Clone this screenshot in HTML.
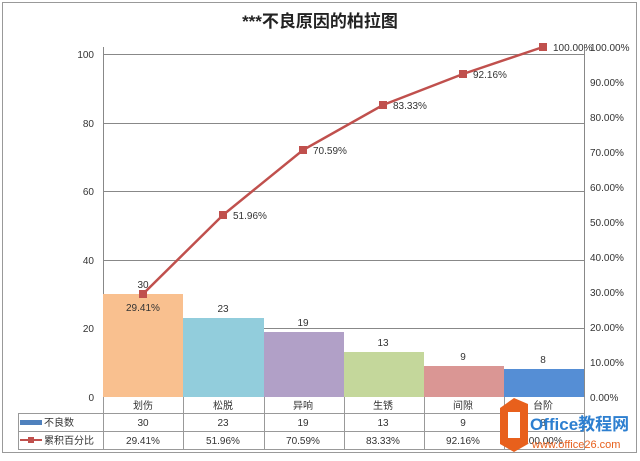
<!DOCTYPE html>
<html><head><meta charset="utf-8"><style>
body{margin:0;background:#fff}
svg text{font-family:"Liberation Sans","Noto Sans CJK SC",sans-serif}
</style></head><body>
<svg width="640" height="456" viewBox="0 0 640 456" xmlns="http://www.w3.org/2000/svg">
<rect x="2.5" y="2.5" width="634" height="450" fill="#fff" stroke="#999"/>
<text x="320" y="27" font-size="17" font-weight="bold" text-anchor="middle" fill="#222">***不良原因的柏拉图</text>
<g stroke="#888" stroke-width="1">
<line x1="103" y1="54.5" x2="584" y2="54.5"/>
<line x1="103" y1="123.5" x2="584" y2="123.5"/>
<line x1="103" y1="191.5" x2="584" y2="191.5"/>
<line x1="103" y1="260.5" x2="584" y2="260.5"/>
<line x1="103" y1="328.5" x2="584" y2="328.5"/>
<line x1="103.5" y1="47" x2="103.5" y2="397"/>
<line x1="584.5" y1="47" x2="584.5" y2="397"/>
</g>
<g font-size="10" fill="#333" text-anchor="end">
<text x="94" y="58">100</text><text x="94" y="127">80</text><text x="94" y="195">60</text>
<text x="94" y="264">40</text><text x="94" y="332">20</text><text x="94" y="401">0</text>
</g>
<g font-size="10" fill="#333">
<text x="590" y="51">100.00%</text><text x="590" y="86">90.00%</text><text x="590" y="121">80.00%</text>
<text x="590" y="156">70.00%</text><text x="590" y="191">60.00%</text><text x="590" y="226">50.00%</text>
<text x="590" y="261">40.00%</text><text x="590" y="296">30.00%</text><text x="590" y="331">20.00%</text>
<text x="590" y="366">10.00%</text><text x="590" y="401">0.00%</text>
</g>
<rect x="103" y="294" width="80" height="103" fill="#f9c08f"/>
<rect x="183" y="318" width="81" height="79" fill="#92cddc"/>
<rect x="264" y="332" width="80" height="65" fill="#b1a0c7"/>
<rect x="344" y="352" width="80" height="45" fill="#c4d79b"/>
<rect x="424" y="366" width="80" height="31" fill="#da9694"/>
<rect x="504" y="369" width="80" height="28" fill="#558ed5"/>
<g font-size="10" fill="#333" text-anchor="middle">
<text x="143" y="288">30</text><text x="223" y="312">23</text><text x="303" y="326">19</text>
<text x="383" y="346">13</text><text x="463" y="360">9</text><text x="543" y="363">8</text>
</g>
<polyline points="143,294 223,215 303,150 383,105 463,74 543,47" fill="none" stroke="#c0504d" stroke-width="2.5"/>
<g fill="#c0504d">
<rect x="139" y="290" width="8" height="8"/><rect x="219" y="211" width="8" height="8"/>
<rect x="299" y="146" width="8" height="8"/><rect x="379" y="101" width="8" height="8"/>
<rect x="459" y="70" width="8" height="8"/><rect x="539" y="43" width="8" height="8"/>
</g>
<g font-size="10" fill="#333">
<text x="126" y="311">29.41%</text><text x="233" y="219">51.96%</text><text x="313" y="154">70.59%</text>
<text x="393" y="109">83.33%</text><text x="473" y="78">92.16%</text><text x="553" y="51">100.00%</text>
</g>
<g stroke="#999" stroke-width="1">
<line x1="18" y1="413.5" x2="584" y2="413.5"/>
<line x1="18" y1="431.5" x2="584" y2="431.5"/>
<line x1="18" y1="449.5" x2="584" y2="449.5"/>
<line x1="18.5" y1="413" x2="18.5" y2="450"/>
<line x1="103.5" y1="397" x2="103.5" y2="450"/>
<line x1="183.5" y1="397" x2="183.5" y2="450"/>
<line x1="264.5" y1="397" x2="264.5" y2="450"/>
<line x1="344.5" y1="397" x2="344.5" y2="450"/>
<line x1="424.5" y1="397" x2="424.5" y2="450"/>
<line x1="504.5" y1="397" x2="504.5" y2="450"/>
<line x1="584.5" y1="397" x2="584.5" y2="450"/>
</g>
<g font-size="10" fill="#333" text-anchor="middle">
<text x="143" y="409">划伤</text><text x="223" y="409">松脱</text><text x="303" y="409">异响</text>
<text x="383" y="409">生锈</text><text x="463" y="409">间隙</text><text x="543" y="409">台阶</text>
<text x="143" y="426">30</text><text x="223" y="426">23</text><text x="303" y="426">19</text>
<text x="383" y="426">13</text><text x="463" y="426">9</text><text x="543" y="426">8</text>
<text x="143" y="444">29.41%</text><text x="223" y="444">51.96%</text><text x="303" y="444">70.59%</text>
<text x="383" y="444">83.33%</text><text x="463" y="444">92.16%</text><text x="543" y="444">100.00%</text>
</g>
<rect x="20" y="420" width="22" height="5" fill="#4f81bd"/>
<text x="44" y="426" font-size="10" fill="#333">不良数</text>
<line x1="20" y1="440" x2="42" y2="440" stroke="#c0504d" stroke-width="2"/>
<rect x="28" y="437" width="6" height="6" fill="#c0504d"/>
<text x="44" y="444" font-size="10" fill="#333">累积百分比</text>
<path d="M500 408 L514 398 L528 404 L528 444 L514 452 L500 444 Z" fill="#e8601c"/>
<rect x="508" y="412" width="12" height="26" fill="#fff"/>
<text x="530" y="430" font-size="17" font-weight="bold" fill="#2d7fd0">Office教程网</text>
<text x="532" y="448" font-size="11" fill="#e8601c">www.office26.com</text>
</svg>
</body></html>
